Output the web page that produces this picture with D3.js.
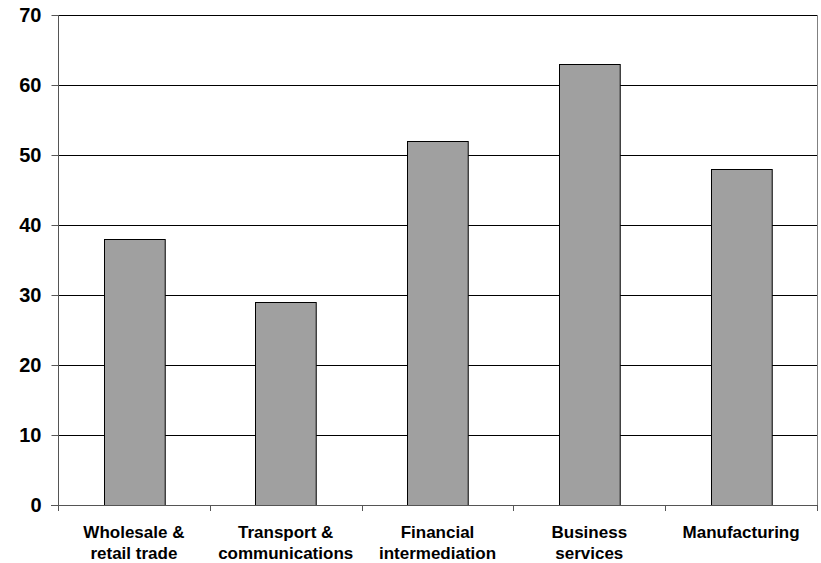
<!DOCTYPE html>
<html>
<head>
<meta charset="utf-8">
<script src="https://cdn.jsdelivr.net/npm/d3@7"></script>
<style>
  body { margin: 0; background: #fff; }
  text { font-family: "Liberation Sans", Arial, sans-serif; font-weight: bold; fill: #000; }
</style>
</head>
<body>
<div id="chart"></div>
<script>
const categories = [
  ["Wholesale &", "retail trade"],
  ["Transport &", "communications"],
  ["Financial", "intermediation"],
  ["Business", "services"],
  ["Manufacturing"]
];
const values = [38, 29, 52, 63, 48];
const yTicks = [0, 10, 20, 30, 40, 50, 60, 70];

const width = 821, height = 563;
const margin = { top: 15, right: 4, bottom: 58, left: 58 };

const svg = d3.select("#chart")
  .append("svg")
  .attr("width", width)
  .attr("height", height);

const x = d3.scaleBand()
  .domain(d3.range(categories.length))
  .range([margin.left, width - margin.right])
  .paddingInner(0.6)
  .paddingOuter(0.3);

const y = d3.scaleLinear()
  .domain([0, 70])
  .range([height - margin.bottom, margin.top]);

// gridlines
svg.append("g")
  .selectAll("line")
  .data(yTicks.filter(d => d > 0))
  .enter().append("line")
  .attr("x1", margin.left)
  .attr("x2", width - margin.right)
  .attr("y1", d => Math.round(y(d)) + 0.5)
  .attr("y2", d => Math.round(y(d)) + 0.5)
  .attr("stroke", "#000")
  .attr("stroke-width", 1);

// right border
svg.append("line")
  .attr("x1", width - margin.right + 0.5)
  .attr("x2", width - margin.right + 0.5)
  .attr("y1", margin.top)
  .attr("y2", height - margin.bottom)
  .attr("stroke", "#808080");

// bars
svg.append("g")
  .selectAll("rect")
  .data(values)
  .enter().append("rect")
  .attr("x", (d, i) => Math.round(x(i)) + 0.5)
  .attr("y", d => Math.round(y(d)) + 0.5)
  .attr("width", x.bandwidth())
  .attr("height", d => y(0) - Math.round(y(d)))
  .attr("fill", "#a0a0a0")
  .attr("stroke", "#000")
  .attr("stroke-width", 1);

// y axis
const yAxis = svg.append("g")
  .attr("transform", `translate(${margin.left + 0.5},0)`)
  .call(d3.axisLeft(y).tickValues(yTicks).tickSize(7).tickPadding(10).tickFormat(d3.format("d")));
yAxis.selectAll("path, line").attr("stroke", "#555");
yAxis.select(".domain").attr("d", `M0,${margin.top}V${height - margin.bottom + 6}`);
yAxis.selectAll("text").style("font-size", "20px").style("font-family", "Liberation Sans, Arial, sans-serif");

// x axis
const bounds = d3.range(categories.length + 1)
  .map(i => margin.left + i * (width - margin.left - margin.right) / categories.length);
const xAxisG = svg.append("g");
xAxisG.append("line")
  .attr("x1", margin.left - 7)
  .attr("x2", width - margin.right)
  .attr("y1", y(0) + 0.5)
  .attr("y2", y(0) + 0.5)
  .attr("stroke", "#555");
xAxisG.selectAll(".tick")
  .data(bounds.slice(1))
  .enter().append("line")
  .attr("x1", d => Math.round(d) + 0.5)
  .attr("x2", d => Math.round(d) + 0.5)
  .attr("y1", y(0))
  .attr("y2", y(0) + 6)
  .attr("stroke", "#555");

const labels = svg.append("g")
  .selectAll("text")
  .data(categories)
  .enter().append("text")
  .attr("text-anchor", "middle")
  .attr("x", (d, i) => x(i) + x.bandwidth() / 2)
  .attr("y", 538)
  .style("font-size", "17px");
labels.selectAll("tspan")
  .data(d => d)
  .enter().append("tspan")
  .attr("x", function () { return d3.select(this.parentNode).attr("x"); })
  .attr("dy", (d, i) => i === 0 ? 0 : 21)
  .text(d => d);
</script>
</body>
</html>
